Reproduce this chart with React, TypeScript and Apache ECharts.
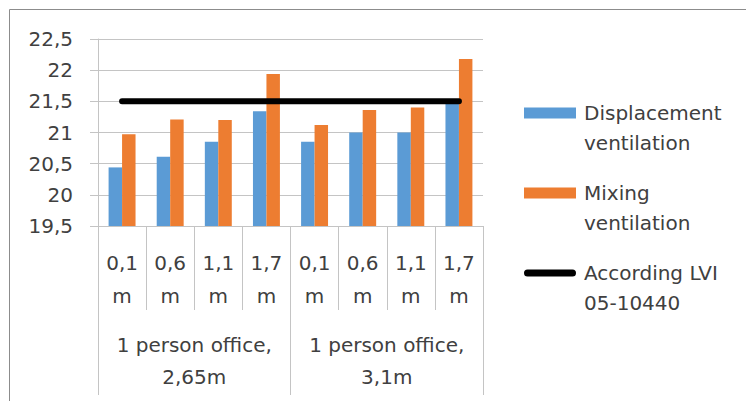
import React, { useEffect, useRef } from "react";
import * as echarts from "echarts";

const heights = ["0,1\nm", "0,6\nm", "1,1\nm", "1,7\nm", "0,1\nm", "0,6\nm", "1,1\nm", "1,7\nm"];
const groups = ["1 person office,\n2,65m", "1 person office,\n3,1m"];
const displacement = [20.44, 20.61, 20.85, 21.34, 20.85, 21.0, 21.0, 21.5];
const mixing = [20.97, 21.21, 21.2, 21.94, 21.12, 21.36, 21.4, 22.18];
const lvi = [21.5, 21.5, 21.5, 21.5, 21.5, 21.5, 21.5, 21.5];
const seriesNames = ["Displacement\nventilation", "Mixing\nventilation", "According LVI\n05-10440"];

const FONT = "DejaVu Sans";
const TXT = "#404040";
const GRID = "#c4c4c4";

export default function App() {
  const ref = useRef<HTMLDivElement>(null);
  useEffect(() => {
    document.body.style.margin = "0";
    const chart = echarts.init(ref.current!, null, { renderer: "svg" });
    chart.setOption({
      animation: false,
      backgroundColor: "#ffffff",
      textStyle: { fontFamily: FONT, color: TXT },
      grid: { left: 98, right: 263, top: 39, bottom: 175, containLabel: false },
      graphic: [
        {
          type: "rect",
          shape: { x: 9.5, y: 9.5, width: 800, height: 500 },
          style: { fill: "none", stroke: "#8c8c8c", lineWidth: 1 },
          silent: true,
        },
      ],
      legend: {
        orient: "vertical",
        left: 524,
        top: 68,
        padding: 0,
        itemGap: -10,
        itemWidth: 52,
        itemHeight: 11,
        formatter: (name: string) => "\n" + name,
        textStyle: {
          fontFamily: FONT,
          fontSize: 20,
          color: TXT,
          lineHeight: 30,
          padding: [0, 0, 0, 3],
        },
        data: [
          { name: seriesNames[0], icon: "rect" },
          { name: seriesNames[1], icon: "rect" },
          {
            name: seriesNames[2],
            icon: "path://M3.5,0 H48.5 A3.5,3.5 0 0 1 48.5,7 H3.5 A3.5,3.5 0 0 1 3.5,0 Z",
            itemStyle: { color: "#000000" },
          },
        ],
      },
      xAxis: [
        {
          type: "category",
          data: heights,
          position: "bottom",
          offset: 0,
          axisLine: { show: true, lineStyle: { color: GRID, width: 1 } },
          axisTick: { show: true, interval: 0, length: 84, lineStyle: { color: GRID } },
          axisLabel: {
            interval: 0,
            margin: 20,
            fontFamily: FONT,
            fontSize: 20,
            color: TXT,
            lineHeight: 33,
          },
        },
        {
          type: "category",
          data: groups,
          position: "bottom",
          offset: 0,
          axisLine: { show: false },
          axisTick: { show: true, interval: 0, length: 169, lineStyle: { color: GRID } },
          axisLabel: {
            interval: 0,
            margin: 103,
            fontFamily: FONT,
            fontSize: 20,
            color: TXT,
            lineHeight: 32,
          },
        },
      ],
      yAxis: {
        type: "value",
        min: 19.5,
        max: 22.5,
        interval: 0.5,
        axisLine: { show: true, lineStyle: { color: GRID } },
        axisTick: { show: true, length: 8, lineStyle: { color: GRID } },
        splitLine: { show: true, lineStyle: { color: GRID } },
        axisLabel: {
          margin: 25,
          fontFamily: FONT,
          fontSize: 20,
          color: TXT,
          formatter: (v: number) => String(v).replace(".", ","),
        },
      },
      series: [
        {
          name: seriesNames[0],
          type: "bar",
          data: displacement,
          itemStyle: { color: "#5B9BD5" },
          barGap: "0%",
          barCategoryGap: "44%",
        },
        {
          name: seriesNames[1],
          type: "bar",
          data: mixing,
          itemStyle: { color: "#ED7D31" },
          barGap: "0%",
          barCategoryGap: "44%",
        },
        {
          name: seriesNames[2],
          type: "line",
          data: lvi,
          symbol: "none",
          z: 5,
          itemStyle: { color: "#000000" },
          lineStyle: { color: "#000000", width: 6, cap: "round" },
        },
      ],
    });
    return () => chart.dispose();
  }, []);
  return (
    <div
      ref={ref}
      style={{ position: "absolute", left: 0, top: 0, width: 746, height: 401 }}
    />
  );
}
